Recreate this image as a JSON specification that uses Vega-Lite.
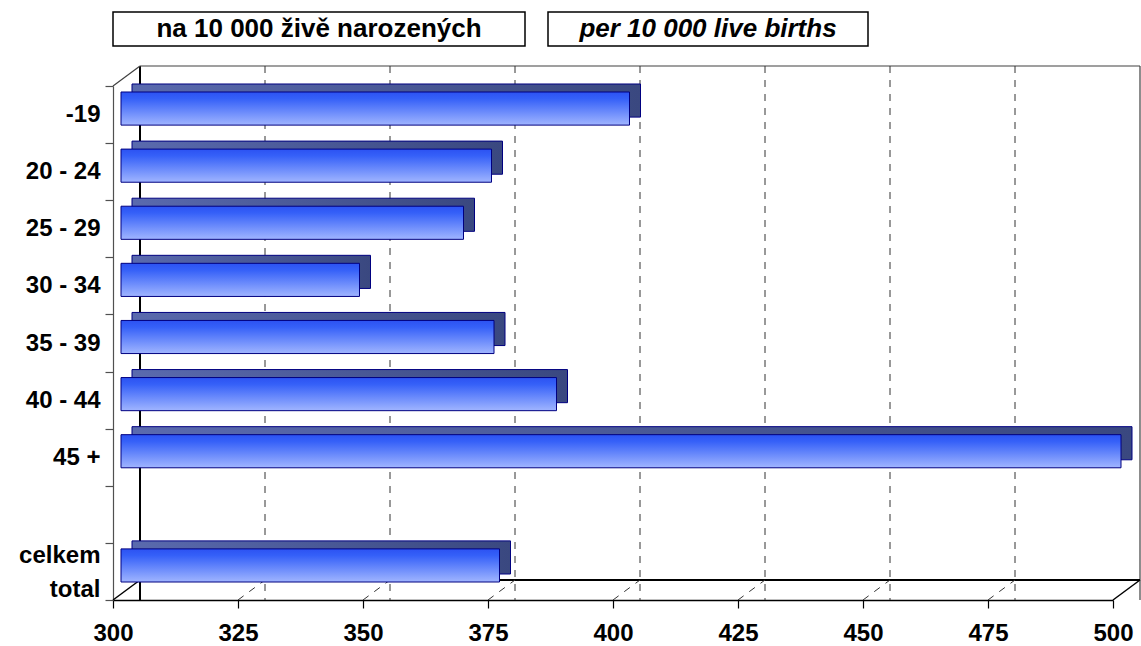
{
  "$schema": "https://vega.github.io/schema/vega-lite/v6.json",
  "padding": {"left": 18, "top": 11, "right": 0, "bottom": 0},
  "background": "white",
  "config": {"font": "Liberation Sans", "view": {"stroke": null}},
  "datasets": {
    "ages": [
      {"age": "-19", "rate": 401.7},
      {"age": "20 - 24", "rate": 374.1},
      {"age": "25 - 29", "rate": 368.5},
      {"age": "30 - 34", "rate": 347.7},
      {"age": "35 - 39", "rate": 374.6},
      {"age": "40 - 44", "rate": 387.1},
      {"age": "45 +", "rate": 500},
      {"age": "celkem total", "rate": 375.7}
    ],
    "grid": [
      {"v": 325}, {"v": 350}, {"v": 375}, {"v": 400}, {"v": 425}, {"v": 450}, {"v": 475}
    ]
  },
  "bounds": "flush",
  "spacing": 74,
  "vconcat": [
    {
      "bounds": "flush",
      "spacing": 23,
      "hconcat": [
        {
          "width": 412, "height": 34,
          "view": {"stroke": "black", "strokeWidth": 1.5},
          "data": {"values": [{"t": "na 10 000 živě narozených"}]},
          "mark": {"type": "text", "fontSize": 26, "fontWeight": "bold", "color": "black"},
          "encoding": {"text": {"field": "t"}}
        },
        {
          "width": 320, "height": 34,
          "view": {"stroke": "black", "strokeWidth": 1.5},
          "data": {"values": [{"t": "per 10 000 live births"}]},
          "mark": {"type": "text", "fontSize": 26, "fontWeight": "bold", "fontStyle": "italic", "color": "black"},
          "encoding": {"text": {"field": "t"}}
        }
      ]
    },
    {
      "width": 1000,
      "height": 514,
      "layer": [
        {
          "data": {"values": [{}]},
          "mark": {"type": "rule", "color": "black", "strokeWidth": 2, "xOffset": 27, "yOffset": -20, "y2Offset": -20},
          "encoding": {"x": {"datum": 300, "type": "quantitative"}}
        },
        {
          "data": {"values": [{}]},
          "mark": {"type": "rule", "color": "#404040", "strokeWidth": 1.2, "xOffset": 27, "yOffset": -20, "y2Offset": -20},
          "encoding": {"x": {"datum": 500, "type": "quantitative"}}
        },
        {
          "data": {"values": [{}]},
          "mark": {"type": "rule", "color": "#404040", "strokeWidth": 1.2, "xOffset": 27, "x2Offset": 27, "yOffset": -20},
          "encoding": {
            "x": {"datum": 300, "type": "quantitative"},
            "x2": {"datum": 500},
            "y": {"datum": "-19", "type": "nominal", "bandPosition": 0}
          }
        },
        {
          "data": {"values": [{}]},
          "mark": {"type": "rule", "color": "black", "strokeWidth": 2, "xOffset": 27, "x2Offset": 27, "yOffset": -20},
          "encoding": {
            "x": {"datum": 300, "type": "quantitative"},
            "x2": {"datum": 500},
            "y": {"datum": "celkem total", "type": "nominal", "bandPosition": 1}
          }
        },
        {
          "data": {"name": "grid"},
          "mark": {"type": "rule", "color": "#333333", "strokeWidth": 1, "strokeDash": [7, 7], "xOffset": 27, "yOffset": -20, "y2Offset": -20},
          "encoding": {"x": {"field": "v", "type": "quantitative"}}
        },
        {
          "data": {"name": "grid"},
          "mark": {"type": "rule", "color": "#333333", "strokeWidth": 1, "strokeDash": [7, 7], "x2Offset": 27, "y2Offset": -20},
          "encoding": {
            "x": {"field": "v", "type": "quantitative"},
            "x2": {"field": "v"},
            "y": {"datum": "celkem total", "type": "nominal", "bandPosition": 1},
            "y2": {"datum": "celkem total", "bandPosition": 1}
          }
        },
        {
          "data": {"values": [{}]},
          "mark": {"type": "rule", "color": "#404040", "strokeWidth": 1.2, "x2Offset": 27, "y2Offset": -20},
          "encoding": {
            "x": {"datum": 300, "type": "quantitative"},
            "x2": {"datum": 300},
            "y": {"datum": "-19", "type": "nominal", "bandPosition": 0},
            "y2": {"datum": "-19", "bandPosition": 0}
          }
        },
        {
          "data": {"values": [{}]},
          "mark": {"type": "rule", "color": "black", "strokeWidth": 1.5, "x2Offset": 27, "y2Offset": -20},
          "encoding": {
            "x": {"datum": 300, "type": "quantitative"},
            "x2": {"datum": 300},
            "y": {"datum": "celkem total", "type": "nominal", "bandPosition": 1},
            "y2": {"datum": "celkem total", "bandPosition": 1}
          }
        },
        {
          "data": {"values": [{}]},
          "mark": {"type": "rule", "color": "black", "strokeWidth": 1.5, "x2Offset": 27, "y2Offset": -20},
          "encoding": {
            "x": {"datum": 500, "type": "quantitative"},
            "x2": {"datum": 500},
            "y": {"datum": "celkem total", "type": "nominal", "bandPosition": 1},
            "y2": {"datum": "celkem total", "bandPosition": 1}
          }
        },
        {
          "data": {"name": "ages"},
          "mark": {
            "type": "bar", "height": {"band": 0.58},
            "color": {"gradient": "linear", "x1": 0, "y1": 0, "x2": 1, "y2": 0, "stops": [{"offset": 0, "color": "#5a6aae"}, {"offset": 1, "color": "#3a4880"}]},
            "stroke": "#000080", "strokeWidth": 1,
            "xOffset": 19, "x2Offset": 19, "yOffset": -14, "y2Offset": -14
          },
          "encoding": {
            "y": {"field": "age", "type": "nominal"},
            "x": {"field": "rate", "type": "quantitative"},
            "x2": {"datum": 300}
          }
        },
        {
          "data": {"name": "ages"},
          "mark": {
            "type": "bar", "height": {"band": 0.58},
            "color": {"gradient": "linear", "x1": 0, "y1": 0, "x2": 0, "y2": 1, "stops": [{"offset": 0, "color": "#2c52f2"}, {"offset": 0.2, "color": "#3560f8"}, {"offset": 1, "color": "#a0b5ff"}]},
            "stroke": "#000080", "strokeWidth": 1,
            "xOffset": 8, "x2Offset": 8, "yOffset": -6, "y2Offset": -6
          },
          "encoding": {
            "y": {
              "field": "age", "type": "nominal",
              "scale": {"domain": ["-19", "20 - 24", "25 - 29", "30 - 34", "35 - 39", "40 - 44", "45 +", "", "celkem total"], "paddingInner": 0, "paddingOuter": 0},
              "axis": {
                "title": null, "tickBand": "extent", "domainColor": "#505050", "domainWidth": 1.2,
                "tickColor": "#505050", "tickSize": 8, "tickWidth": 1.2,
                "labelFontSize": 24, "labelFontWeight": "bold", "labelColor": "black", "labelPadding": 5,
                "labelFont": "Liberation Sans",
                "labelExpr": "datum.value == 'celkem total' ? ['celkem', 'total'] : datum.value",
                "labelLineHeight": 34,
                "labelOffset": {"condition": {"test": "datum.value == 'celkem total'", "value": -16}, "value": 0}
              }
            },
            "x": {
              "field": "rate", "type": "quantitative",
              "scale": {"domain": [300, 500], "nice": false, "zero": false},
              "axis": {
                "title": null, "grid": false, "values": [300, 325, 350, 375, 400, 425, 450, 475, 500],
                "domainColor": "black", "domainWidth": 1.5, "tickColor": "black", "tickWidth": 1.2, "tickSize": 8,
                "labelFontSize": 24, "labelFontWeight": "bold", "labelColor": "black", "labelPadding": 13,
                "labelFont": "Liberation Sans", "labelFlush": false, "labelOverlap": false
              }
            },
            "x2": {"datum": 300}
          }
        }
      ]
    }
  ]
}
